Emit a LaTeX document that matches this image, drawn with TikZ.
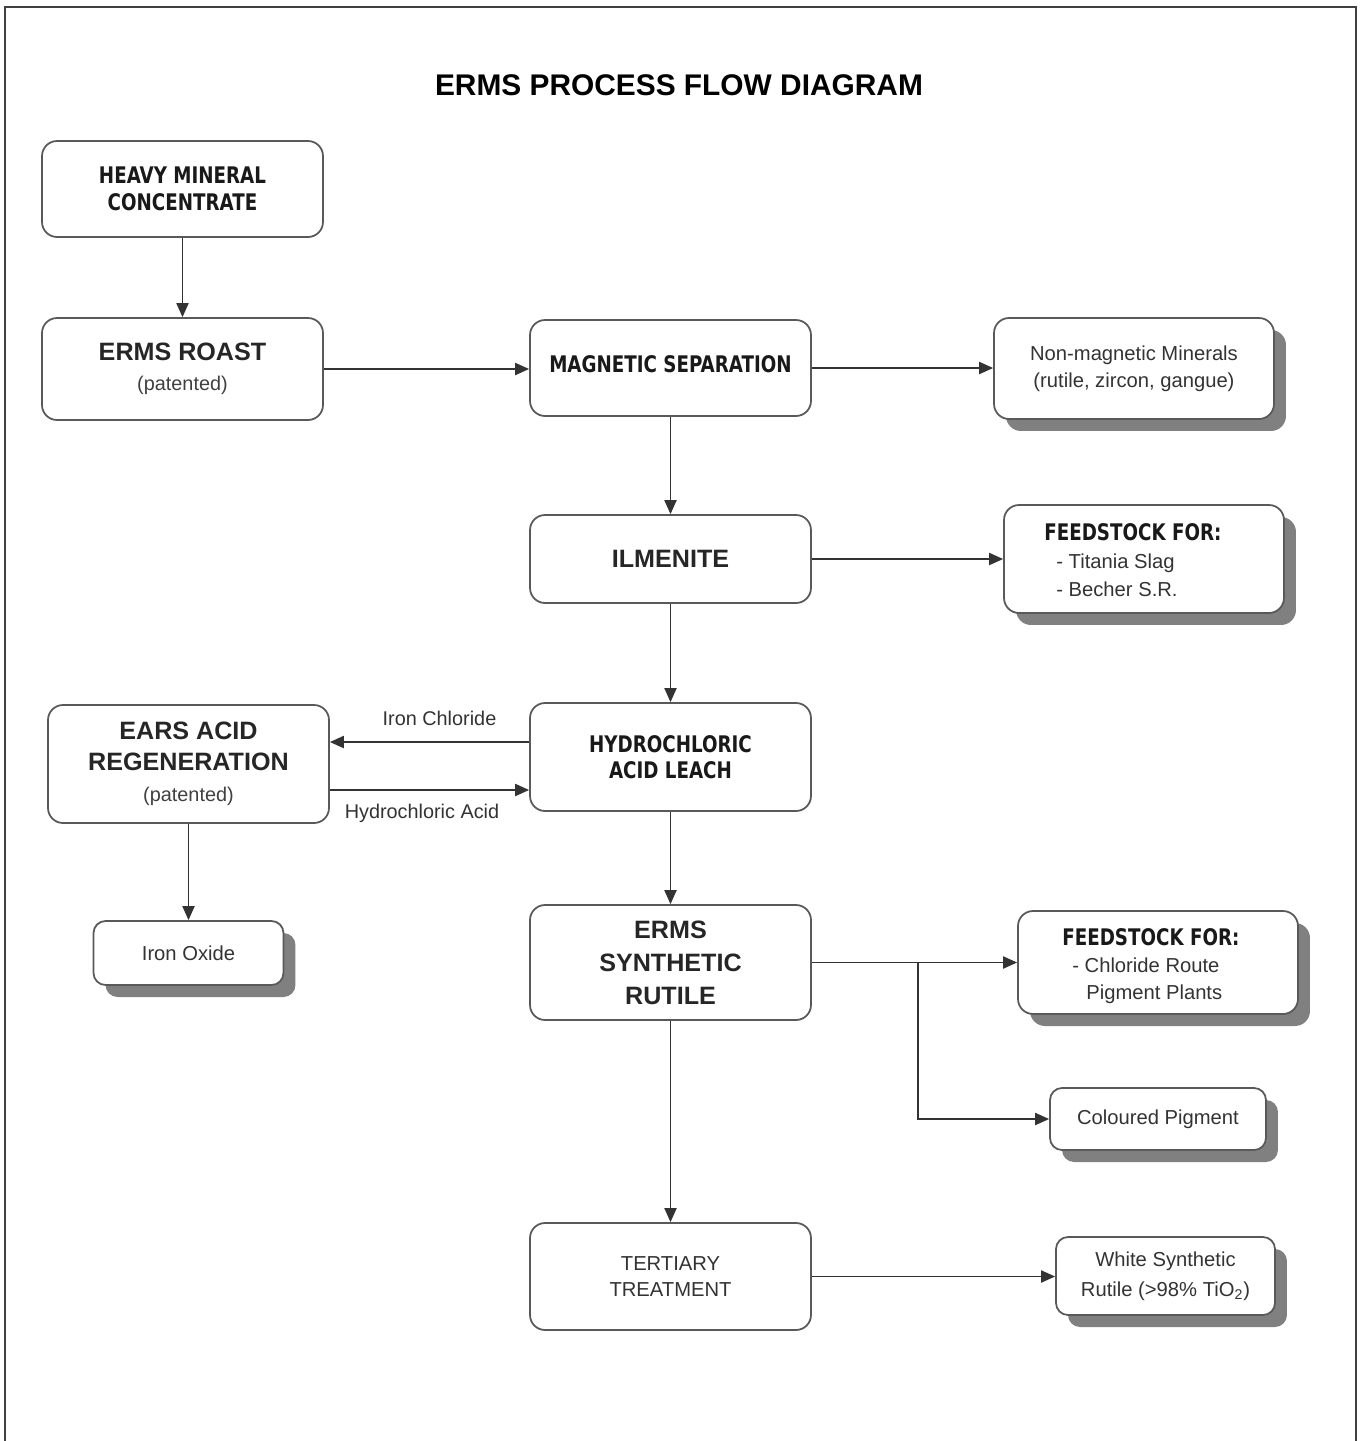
\documentclass[tikz,border=0pt]{standalone}
\usepackage{fontspec}
\setmainfont{Liberation Sans}
\newfontfamily\tahfont[FakeStretch=0.8]{DejaVu Sans}
\usetikzlibrary{arrows.meta,shadows,calc}
\newcommand\BigBold[1]{{\bfseries\fontsize{14.3pt}{18.7pt}\selectfont #1}}
\begin{document}
\begin{tikzpicture}[x=0.02cm,y=-0.02cm,
 box/.style={draw=black!65, line width=1pt, rounded corners=0.3cm, fill=white, minimum width=5.62cm, inner sep=0pt, align=center, text=black!85},
 shad/.style={drop shadow={shadow xshift=0.24cm, shadow yshift=-0.24cm, fill=black!50, opacity=1}},
 reg/.style={font=\fontsize{11.5pt}{15.3pt}\selectfont, text=black!80},
 tah/.style={font=\tahfont\bfseries\fontsize{13pt}{15pt}\selectfont, text=black!90},
 arr/.style={draw=black!80, line width=1.1pt, -{Triangle[length=0.28cm,width=0.24cm]}},
 lbl/.style={font=\fontsize{11.3pt}{13pt}\selectfont, text=black!80, inner sep=0pt}]
\useasboundingbox (0,0) rectangle (1361,1441);
\fill[white] (0,0) rectangle (1361,1441);
\draw[black!75, line width=1.4pt] (5,1441) -- (5,7) -- (1356,7) -- (1356,1441);

\node[font=\bfseries\fontsize{17pt}{20pt}\selectfont, text=black] (title) at (679,85) {ERMS PROCESS FLOW DIAGRAM};

% main boxes
\node[box, tah, minimum height=1.92cm] (hmc) at (182.5,189) {HEAVY MINERAL\\CONCENTRATE};
\node[box, font=\fontsize{11.3pt}{17pt}\selectfont, minimum height=2.04cm] (roast) at (182.5,369) {\BigBold{ERMS ROAST}\\{\color{black!75}(patented)}};
\node[box, tah, minimum height=1.92cm, text depth=0.15cm] (mag) at (670.5,368) {MAGNETIC SEPARATION};
\node[box, reg, shad, minimum width=5.6cm, minimum height=2.02cm] (nonmag) at (1134,368.5) {Non-magnetic Minerals\\(rutile, zircon, gangue)};
\node[box, minimum height=1.76cm] (ilm) at (670.5,559) {\BigBold{ILMENITE}};
\node[box, shad, minimum width=5.6cm, minimum height=2.16cm] (fs1) at (1144,559) {};
\node[reg, anchor=west, align=left, inner sep=0pt, font=\fontsize{11.5pt}{15.9pt}\selectfont] (fs1t) at (1044,560) {{\tahfont\bfseries\fontsize{13pt}{15.9pt}\selectfont\color{black!90} FEEDSTOCK FOR:}\\\hspace*{0.24cm}- Titania Slag\\\hspace*{0.24cm}- Becher S.R.};
\node[box, tah, minimum height=2.16cm] (hcl) at (670.5,757) {HYDROCHLORIC\\ACID LEACH};
\node[box, font=\fontsize{11.3pt}{17.6pt}\selectfont, minimum height=2.36cm] (ears) at (188.5,764) {\BigBold{EARS ACID}\\\BigBold{REGENERATION}\\{\color{black!75}(patented)}};
\node[box, reg, shad, rounded corners=0.24cm, minimum width=3.8cm, minimum height=1.28cm] (feo) at (188.5,953) {Iron Oxide};
\node[box, font=\fontsize{14.3pt}{18.7pt}\selectfont\bfseries, minimum height=2.3cm] (esr) at (670.5,962.5) {ERMS\\SYNTHETIC\\RUTILE};
\node[box, shad, minimum width=5.6cm, minimum height=2.06cm] (fs2) at (1158,962.5) {};
\node[reg, anchor=west, align=left, inner sep=0pt, font=\fontsize{11.5pt}{15.3pt}\selectfont] (fs2t) at (1062,966) {{\tahfont\bfseries\fontsize{13pt}{15.3pt}\selectfont\color{black!90} FEEDSTOCK FOR:}\\\hspace*{0.2cm}- Chloride Route\\\hspace*{0.48cm}Pigment Plants};
\node[box, reg, shad, rounded corners=0.24cm, minimum width=4.32cm, minimum height=1.24cm] (col) at (1158,1119) {Coloured Pigment};
\node[box, reg, minimum height=2.14cm] (ter) at (670.5,1276.5) {TERTIARY\\TREATMENT};
\node[box, reg, shad, rounded corners=0.24cm, font=\fontsize{11.5pt}{17pt}\selectfont, minimum width=4.38cm, minimum height=1.56cm] (white) at (1165.5,1276) {White Synthetic\\Rutile (>98\% TiO\textsubscript{2})};

% connectors
\draw[arr] (hmc) -- (roast);
\draw[arr] (roast.east) -- (roast.east -| mag.west);
\draw[arr] (mag.east) -- (mag.east -| nonmag.west);
\draw[arr] (mag) -- (ilm);
\draw[arr] (ilm.east) -- (ilm.east -| fs1.west);
\draw[arr] (ilm) -- (hcl);
\draw[arr] ([yshift=0.3cm]hcl.west) -- node[lbl, above=0.3cm, xshift=0.2cm] (icl) {Iron Chloride} ([yshift=0.3cm]hcl.west -| ears.east);
\draw[arr] ([yshift=-0.66cm]hcl.west -| ears.east) -- node[lbl, below=0.26cm, xshift=-0.15cm] (hcla) {Hydrochloric Acid} ([yshift=-0.66cm]hcl.west);
\draw[arr] (ears.south) -- (ears.south |- feo.north);
\draw[arr] (hcl) -- (esr);
\draw[arr] (esr.east) -- (fs2.west);
\coordinate (br) at (918,962.5);
\draw[arr] (br) |- (col.west);
\draw[arr] (esr) -- (ter);
\draw[arr] (ter.east) -- (ter.east -| white.west);
\end{tikzpicture}
\end{document}
